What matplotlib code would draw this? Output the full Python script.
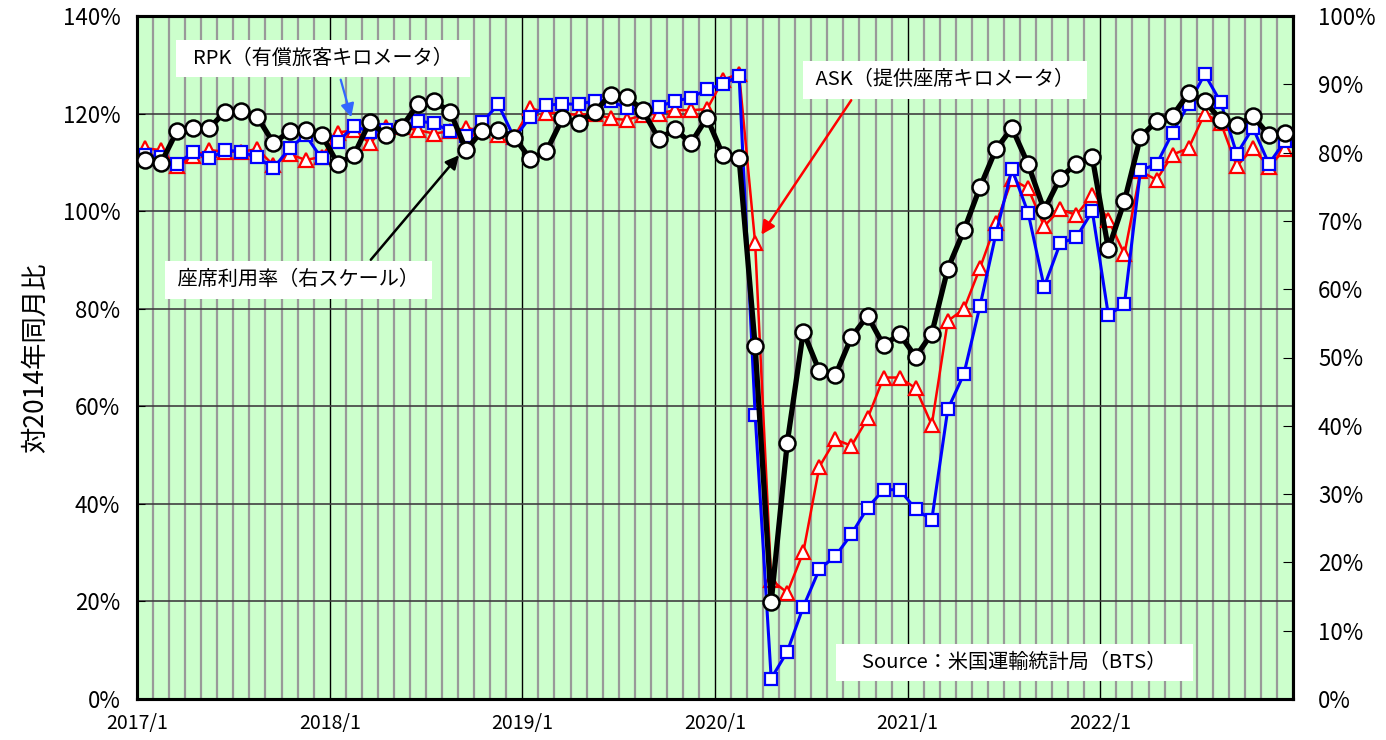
import numpy as np
import matplotlib
matplotlib.use("Agg")
from matplotlib import pyplot as plt

plt.rcParams['font.family'] = ['Noto Sans CJK JP', 'DejaVu Sans']

# monthly values, 2017/1 - 2022/12
year_labels = ['2017/1', '2018/1', '2019/1', '2020/1', '2021/1', '2022/1']

rpk = [111.5, 111.1, 109.6, 112.2, 110.8, 112.5, 112.2, 111.0, 108.8, 112.9, 115.6, 110.8,
       114.1, 117.5, 116.2, 116.6, 117.2, 118.5, 118.0, 116.4, 115.4, 118.2, 121.9, 115.0,
       119.3, 121.7, 122.0, 121.9, 122.6, 122.6, 121.1, 120.7, 121.4, 122.6, 123.2, 125.0,
       126.0, 127.8, 58.3, 4.2, 9.7, 18.9, 26.6, 29.3, 33.8, 39.2, 42.9, 42.9,
       38.9, 36.7, 59.4, 66.6, 80.5, 95.4, 108.6, 99.7, 84.5, 93.4, 94.6, 100.0,
       78.7, 80.9, 108.4, 109.6, 116.1, 121.9, 128.1, 122.3, 111.7, 117.1, 109.7, 114.4]

ask = [112.9, 112.5, 109.2, 111.3, 112.5, 112.2, 112.2, 112.7, 109.4, 111.7, 110.5, 111.1,
       116.1, 116.6, 113.9, 117.3, 117.2, 116.6, 115.9, 116.4, 117.0, 116.6, 115.6, 115.2,
       121.1, 120.2, 120.0, 119.7, 120.0, 119.0, 118.7, 119.7, 120.0, 120.7, 120.7, 120.9,
       126.9, 128.2, 93.5, 24.4, 21.8, 30.1, 47.6, 53.2, 51.9, 57.5, 65.9, 65.9,
       63.7, 56.2, 77.5, 79.9, 88.3, 97.5, 106.5, 104.7, 96.9, 100.4, 99.2, 103.3,
       98.2, 91.2, 108.2, 106.4, 111.6, 112.9, 120.0, 118.1, 109.2, 112.9, 109.1, 112.7]

load_factor = [78.9, 78.5, 83.2, 83.6, 83.6, 86.0, 86.1, 85.2, 81.4, 83.1, 83.3, 82.6,
               78.4, 79.6, 84.5, 82.6, 83.8, 87.1, 87.5, 86.0, 80.4, 83.2, 83.3, 82.2,
               79.1, 80.2, 85.0, 84.4, 86.0, 88.5, 88.2, 86.2, 82.0, 83.4, 81.4, 85.1,
               79.6, 79.2, 51.7, 14.2, 37.5, 53.8, 48.0, 47.4, 53.0, 56.1, 51.8, 53.4,
               50.1, 53.5, 63.0, 68.6, 74.9, 80.5, 83.6, 78.3, 71.6, 76.3, 78.4, 79.3,
               65.9, 72.9, 82.3, 84.6, 85.4, 88.7, 87.5, 84.8, 84.0, 85.3, 82.6, 82.9]

n = len(rpk)
x = np.arange(n) + 0.5

fig = plt.figure(figsize=(13.86, 7.40), dpi=100)
ax = fig.add_axes([137/1386, 1 - 699/740, (1293-137)/1386, (699-16)/740])
ax.set_facecolor('#ccffcc')

# grid: months gray, years black, 20% steps dark
ax.set_xlim(0, n)
ax.set_xticks(np.arange(0, n, 12))
ax.set_xticklabels(year_labels)
ax.set_xticks(np.arange(0, n + 1), minor=True)
ax.grid(which='minor', axis='x', color='#999999', lw=1.6, zorder=0)
ax.grid(which='major', axis='x', color='black', lw=1.0, zorder=0)
ax.set_ylim(0, 140)
ax.set_yticks(np.arange(0, 141, 20))
ax.set_yticklabels([f'{v}%' for v in range(0, 141, 20)])
ax.grid(which='major', axis='y', color='#404040', lw=1.2)
ax.set_axisbelow(True)
ax.tick_params(axis='x', which='both', length=0, pad=10, labelsize=14)
ax.tick_params(axis='y', direction='in', length=6, pad=12, labelsize=16)
ax.set_ylabel('対2014年同月比', fontsize=19, labelpad=10)

ax.plot(x, ask, color='red', lw=1.8, marker='^', ms=10, mfc='white', mec='red', mew=1.6, zorder=3)
ax.plot(x, rpk, color='blue', lw=2.2, marker='s', ms=9, mfc='white', mec='blue', mew=1.6, zorder=4)

ax2 = ax.twinx()
ax2.set_ylim(0, 100)
ax2.set_yticks(np.arange(0, 101, 10))
ax2.set_yticklabels([f'{v}%' for v in range(0, 101, 10)])
ax2.tick_params(axis='y', direction='in', length=7, pad=18, labelsize=16)
ax2.plot(x, load_factor, color='black', lw=3.8, marker='o', ms=11.5, mfc='white', mec='black', mew=1.8, zorder=5)

for a in (ax, ax2):
    for s in a.spines.values():
        s.set_linewidth(2.2)

box = dict(facecolor='white', edgecolor='none', pad=6)
tr = ax.transData

ax2.annotate('', xy=(13.39, 118.7), xytext=(12.64, 127.5), xycoords=tr, textcoords=tr,
             arrowprops=dict(arrowstyle='-|>', color='#3366ff', lw=1.6, mutation_scale=20))
ax2.text(11.58, 131.3, '  RPK（有償旅客キロメータ）  ', transform=tr, ha='center', va='center',
         fontsize=14.5, bbox=box, zorder=10)

ax2.annotate('', xy=(38.79, 94.7), xytext=(44.58, 123.2), xycoords=tr, textcoords=tr,
             arrowprops=dict(arrowstyle='-|>', color='red', lw=1.8, mutation_scale=20))
ax2.text(50.34, 126.9, ' ASK（提供座席キロメータ） ', transform=tr, ha='center', va='center',
         fontsize=14.5, bbox=box, zorder=10)

ax2.annotate('', xy=(20.17, 111.9), xytext=(14.45, 89.6), xycoords=tr, textcoords=tr,
             arrowprops=dict(arrowstyle='-|>', color='black', lw=1.8, mutation_scale=20))
ax2.text(10.06, 85.9, ' 座席利用率（右スケール） ', transform=tr, ha='center', va='center',
         fontsize=14.5, bbox=box, zorder=10)

ax2.text(54.64, 7.5, '    Source：米国運輸統計局（BTS）    ', transform=tr, ha='center', va='center',
         fontsize=14.5, bbox=box, zorder=10)

fig.savefig('out.png', dpi=100)
